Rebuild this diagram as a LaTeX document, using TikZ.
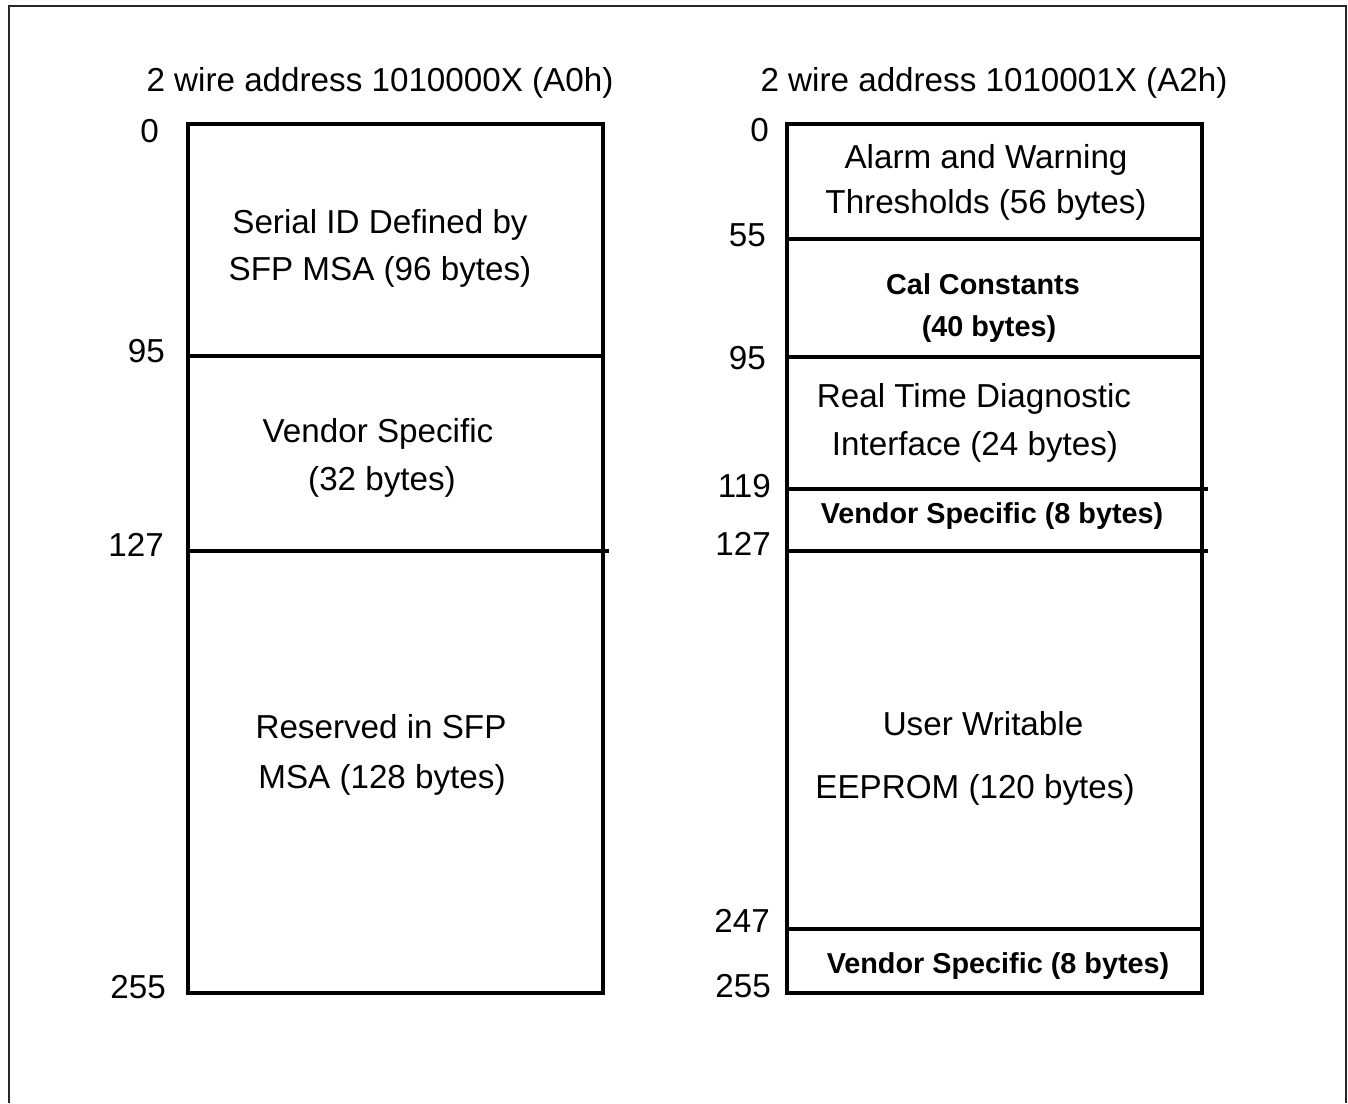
\documentclass[tikz,border=0pt]{standalone}
\usepackage{fontspec}
\setmainfont{Liberation Sans}
\begin{document}
\begin{tikzpicture}[x=1pt,y=-1pt,
  reg/.style={inner sep=0pt,anchor=base,font=\fontsize{33.2}{39}\selectfont},
  bld/.style={inner sep=0pt,anchor=base,font=\fontsize{28.8}{34}\selectfont\bfseries},
  num/.style={inner sep=0pt,anchor=base east,font=\fontsize{33.2}{39}\selectfont},
  boxline/.style={line width=3.2pt,line cap=rect},
  frameline/.style={line width=2pt,draw=black!85}]
\useasboundingbox (0,0) rectangle (1348,1103);
% outer frame (open at bottom)
\draw[frameline] (9,1103) -- (9,6) -- (1346,6) -- (1346,1103);
% titles
\node[reg] (t1) at (380,91) {2 wire address 1010000X (A0h)};
\node[reg] (t2) at (994,91) {2 wire address 1010001X (A2h)};
% left box
\draw[boxline] (188,124) rectangle (603,993);
\draw[boxline] (188,356) -- (603,356);
\draw[boxline] (191,551) -- (607,551);
\node[num] (l0) at (159,142) {0};
\node[num] (l95) at (165,362) {95};
\node[num] (l127) at (164,556) {127};
\node[num] (l255) at (166,998) {255};
\node[reg] (a1) at (380,233) {Serial ID Defined by};
\node[reg] (a2) at (380,280) {SFP MSA (96 bytes)};
\node[reg] (b1) at (378,442) {Vendor Specific};
\node[reg] (b2) at (382,490) {(32 bytes)};
\node[reg] (c1) at (381,738) {Reserved in SFP};
\node[reg] (c2) at (382,788) {MSA (128 bytes)};
% right box
\draw[boxline] (787,124) rectangle (1202,993);
\draw[boxline] (787,239) -- (1202,239);
\draw[boxline] (787,357) -- (1202,357);
\draw[boxline] (791,489) -- (1206,489);
\draw[boxline] (791,551) -- (1206,551);
\draw[boxline] (787,929) -- (1202,929);
\node[num] (r0) at (769,141) {0};
\node[num] (r55) at (766,246) {55};
\node[num] (r95) at (766,369) {95};
\node[num] (r119) at (771,497) {119};
\node[num] (r127) at (771,555) {127};
\node[num] (r247) at (770,932) {247};
\node[num] (r255) at (771,997) {255};
\node[reg] (d1) at (986,168) {Alarm and Warning};
\node[reg] (d2) at (986,213) {Thresholds (56 bytes)};
\node[bld] (e1) at (983,294) {Cal Constants};
\node[bld] (e2) at (989,336) {(40 bytes)};
\node[reg] (f1) at (974,407) {Real Time Diagnostic};
\node[reg] (f2) at (975,455) {Interface (24 bytes)};
\node[bld] (g1) at (992,523) {Vendor Specific (8 bytes)};
\node[reg] (h1) at (983,735) {User Writable};
\node[reg] (h2) at (975,798) {EEPROM (120 bytes)};
\node[bld] (k1) at (998,973) {Vendor Specific (8 bytes)};
\end{tikzpicture}
\end{document}
